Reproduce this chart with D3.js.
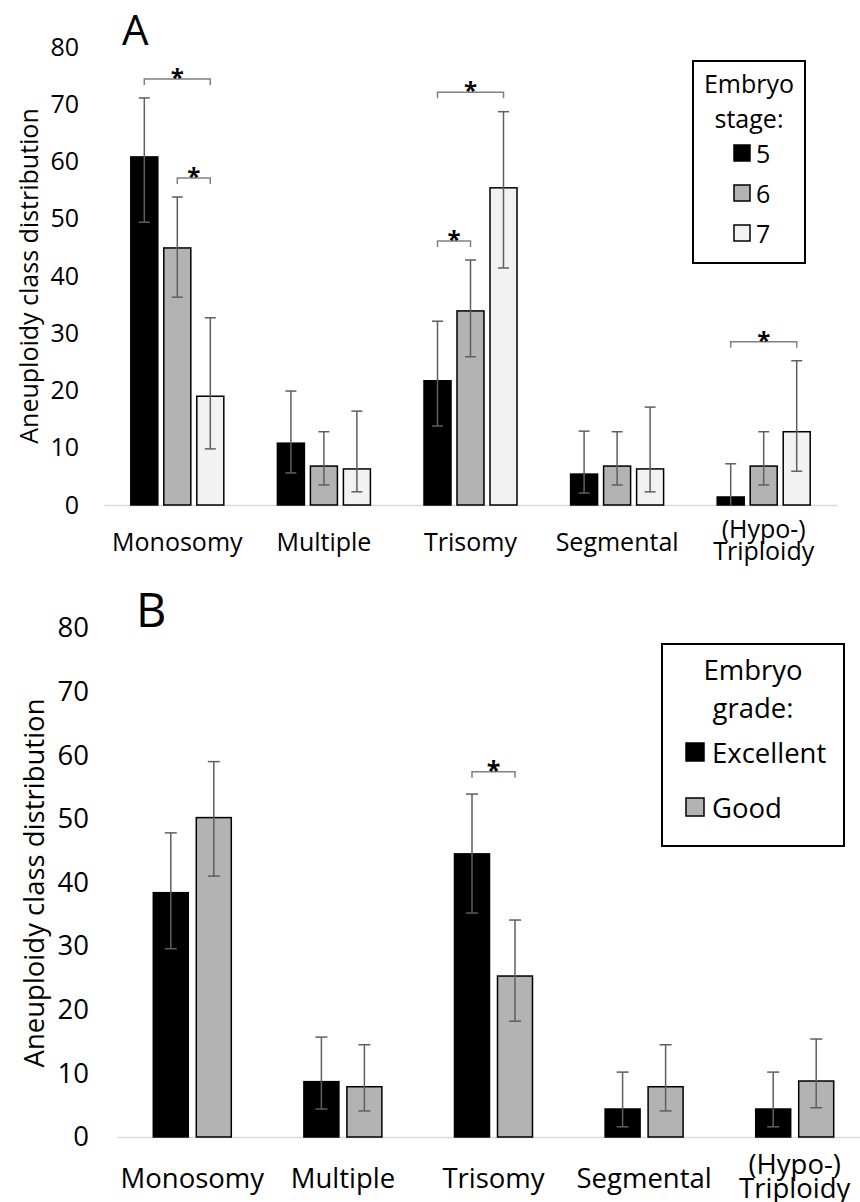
<!DOCTYPE html>
<html>
<head>
<meta charset="utf-8">
<script src="https://cdn.jsdelivr.net/npm/d3@7"></script>
<style>
  body { margin: 0; background: #fff; }
  svg { display: block; font-family: "Open Sans", sans-serif; }
</style>
</head>
<body>
<svg id="chart" width="860" height="1202"></svg>
<script>
// categories and tick values shared by both panels
const categories = ['Monosomy', 'Multiple', 'Trisomy', 'Segmental', '(Hypo-)\nTriploidy'];
const yTicks = [0, 10, 20, 30, 40, 50, 60, 70, 80];

// panel A: embryo stage
const stages = ['5', '6', '7'];
const stage5 = [60.8, 10.8, 21.7, 5.4, 1.4];
const stage5Low = [49.4, 5.6, 13.8, 2.1, 0];
const stage5High = [71.1, 19.9, 32.1, 12.9, 7.2];
const stage6 = [44.9, 6.8, 33.9, 6.8, 6.8];
const stage6Low = [36.3, 3.5, 25.9, 3.5, 3.5];
const stage6High = [53.8, 12.8, 42.8, 12.8, 12.8];
const stage7 = [19.0, 6.3, 55.4, 6.3, 12.8];
const stage7Low = [9.8, 2.3, 41.4, 2.3, 5.9];
const stage7High = [32.7, 16.4, 68.7, 17.1, 25.2];
// significance brackets: category index, bar from, bar to, level
const stageSig = [
  {cat: 0, from: 0, to: 2, level: 74.4},
  {cat: 0, from: 1, to: 2, level: 57.1},
  {cat: 2, from: 0, to: 2, level: 72.1},
  {cat: 2, from: 0, to: 1, level: 46.1},
  {cat: 4, from: 0, to: 2, level: 28.5}
];

// panel B: embryo grade
const grades = ['Excellent', 'Good'];
const gradeExcellent = [38.4, 8.7, 44.5, 4.4, 4.4];
const gradeExcellentLow = [29.6, 4.4, 35.2, 1.6, 1.6];
const gradeExcellentHigh = [47.8, 15.7, 53.9, 10.2, 10.2];
const gradeGood = [50.2, 7.9, 25.3, 7.9, 8.8];
const gradeGoodLow = [41.0, 4.1, 18.2, 4.1, 4.6];
const gradeGoodHigh = [59.0, 14.5, 34.1, 14.5, 15.4];
const gradeSig = [
  {cat: 2, from: 0, to: 1, level: 57.4}
];

const svg = d3.select('#chart');

function drawPanel(p) {
  const g = svg.append('g');

  const x = d3.scaleBand()
    .domain(categories)
    .range([p.left, p.right])

  const stride = p.barStride;
  const n = p.series.length;
  const inner = p.barStride - p.barWidth;
  const xs = d3.scaleBand()
    .domain(p.series)
    .range([0, n * stride])
    .paddingInner(inner / stride)
    .paddingOuter(inner / stride / 2)

  const y = d3.scaleLinear()
    .domain([0, 80])
    .range([p.bottom, p.top])

  const barX = (ci, si) => x(categories[ci]) + x.bandwidth() / 2 - n * stride / 2 + xs(p.series[si]);
  const barMid = (ci, si) => barX(ci, si) + xs.bandwidth() / 2;

  // left axis, labels only
  const leftAxis = d3.axisLeft(y).tickValues(yTicks).tickSize(0).tickPadding(p.tickPad);
  const ga = g.append('g')
    .attr('transform', `translate(${p.left}, 0)`)
    .call(leftAxis);
  ga.select('.domain').remove();
  ga.selectAll('text')
    .attr('font-size', p.font)
    .attr('font-family', '"Open Sans", sans-serif')
    .attr('fill', '#000');

  // bottom axis
  const bottomAxis = d3.axisBottom(x).tickSize(0).tickSizeOuter(0);
  const gb = g.append('g')
    .attr('transform', `translate(0, ${p.bottom})`)
    .call(bottomAxis);
  gb.select('.domain').attr('stroke', '#d9d9d9').attr('stroke-width', 1.5);
  gb.selectAll('text').each(function (d) {
    const t = d3.select(this);
    const lines = d.split('\n');
    t.text(null)
      .attr('font-size', p.font)
      .attr('font-family', '"Open Sans", sans-serif')
      .attr('fill', '#000')
      .attr('dy', null)
      .attr('y', 0);
    const first = lines.length > 1 ? p.labelY - p.lineGap * 0.6 : p.labelY;
    lines.forEach((line, i) => {
      t.append('tspan')
        .attr('x', 0)
        .attr('y', first + i * p.lineGap)
        .text(line);
    });
  });

  // bars
  p.series.forEach((s, si) => {
    g.append('g')
      .selectAll('rect')
      .data(p.values[si])
      .enter()
      .append('rect')
      .attr('x', (d, ci) => barX(ci, si))
      .attr('y', (d) => y(d))
      .attr('width', xs.bandwidth())
      .attr('height', (d) => y(0) - y(d))
      .attr('fill', p.colors[si])
      .attr('stroke', '#000')
      .attr('stroke-width', 1.5);
  });

  // error bars
  p.series.forEach((s, si) => {
    const eg = g.append('g').attr('stroke', '#5f5f5f').attr('stroke-width', 1.5);
    p.low[si].forEach((lo, ci) => {
      const hi = p.high[si][ci];
      const cx = barMid(ci, si);
      eg.append('line').attr('x1', cx).attr('x2', cx).attr('y1', y(lo)).attr('y2', y(hi));
      eg.append('line').attr('x1', cx - p.cap / 2).attr('x2', cx + p.cap / 2).attr('y1', y(hi)).attr('y2', y(hi));
      if (lo > 0) {
        eg.append('line').attr('x1', cx - p.cap / 2).attr('x2', cx + p.cap / 2).attr('y1', y(lo)).attr('y2', y(lo));
      }
    });
  });

  // significance brackets
  p.sig.forEach((b) => {
    const x1 = barMid(b.cat, b.from);
    const x2 = barMid(b.cat, b.to);
    const yy = y(b.level);
    g.append('path')
      .attr('d', `M${x1},${yy + 6}V${yy}H${x2}V${yy + 6}`)
      .attr('fill', 'none')
      .attr('stroke', '#808080')
      .attr('stroke-width', 1.5);
    g.append('text')
      .text('*')
      .attr('x', (x1 + x2) / 2)
      .attr('y', yy + p.starDy)
      .attr('text-anchor', 'middle')
      .attr('font-size', p.starFont)
      .attr('font-weight', 'bold');
  });

  // axis title
  g.append('text')
    .text('Aneuploidy class distribution')
    .attr('transform', `translate(${p.titleX}, ${p.titleY}) rotate(-90)`)
    .attr('text-anchor', 'middle')
    .attr('dominant-baseline', 'central')
    .attr('font-size', p.font);

  // panel letter
  g.append('text')
    .text(p.letter)
    .attr('x', p.letterX)
    .attr('y', p.letterY)
    .attr('font-size', p.letterFont);

  // legend
  const L = p.legend;
  g.append('rect')
    .attr('x', L.x).attr('y', L.y)
    .attr('width', L.w).attr('height', L.h)
    .attr('fill', '#fff').attr('stroke', '#000').attr('stroke-width', 2);
  L.title.forEach((line, i) => {
    g.append('text')
      .text(line)
      .attr('x', L.x + L.w / 2 + L.titleShift)
      .attr('y', L.titleY[i])
      .attr('text-anchor', 'middle')
      .attr('dominant-baseline', 'central')
      .attr('font-size', p.font);
  });
  p.series.forEach((s, si) => {
    const cy = L.itemY[si];
    g.append('rect')
      .attr('x', L.swX).attr('y', cy - L.sw / 2)
      .attr('width', L.sw).attr('height', L.sw)
      .attr('fill', p.colors[si]).attr('stroke', '#000').attr('stroke-width', 1.5);
    g.append('text')
      .text(s)
      .attr('x', L.textX)
      .attr('y', cy)
      .attr('dominant-baseline', 'central')
      .attr('font-size', p.font);
  });
}

drawPanel({
  letter: 'A', letterX: 122, letterY: 45, letterFont: 42,
  left: 104, right: 837, top: 47, bottom: 505,
  series: stages,
  values: [stage5, stage6, stage7],
  low: [stage5Low, stage6Low, stage7Low],
  high: [stage5High, stage6High, stage7High],
  colors: ['#000000', '#b3b3b3', '#f2f2f2'],
  sig: stageSig,
  barStride: 33, barWidth: 27, cap: 11,
  font: 25, tickPad: 25, labelY: 46, lineGap: 22,
  starFont: 24, starDy: 7,
  titleX: 28, titleY: 276,
  legend: {
    x: 693, y: 61, w: 112, h: 202, titleShift: 0,
    title: ['Embryo', 'stage:'], titleY: [83, 118],
    itemY: [153, 193, 233], swX: 734, sw: 16, textX: 756
  }
});

drawPanel({
  letter: 'B', letterX: 136, letterY: 627, letterFont: 47,
  left: 117, right: 870, top: 628, bottom: 1137,
  series: grades,
  values: [gradeExcellent, gradeGood],
  low: [gradeExcellentLow, gradeGoodLow],
  high: [gradeExcellentHigh, gradeGoodHigh],
  colors: ['#000000', '#b3b3b3'],
  sig: gradeSig,
  barStride: 43, barWidth: 35, cap: 12,
  font: 27.5, tickPad: 28, labelY: 51, lineGap: 24,
  starFont: 25, starDy: 7,
  titleX: 33, titleY: 883,
  legend: {
    x: 662, y: 644, w: 182, h: 202, titleShift: 0,
    title: ['Embryo', 'grade:'], titleY: [669, 707],
    itemY: [752, 807], swX: 686, sw: 18, textX: 712
  }
});
</script>
</body>
</html>
